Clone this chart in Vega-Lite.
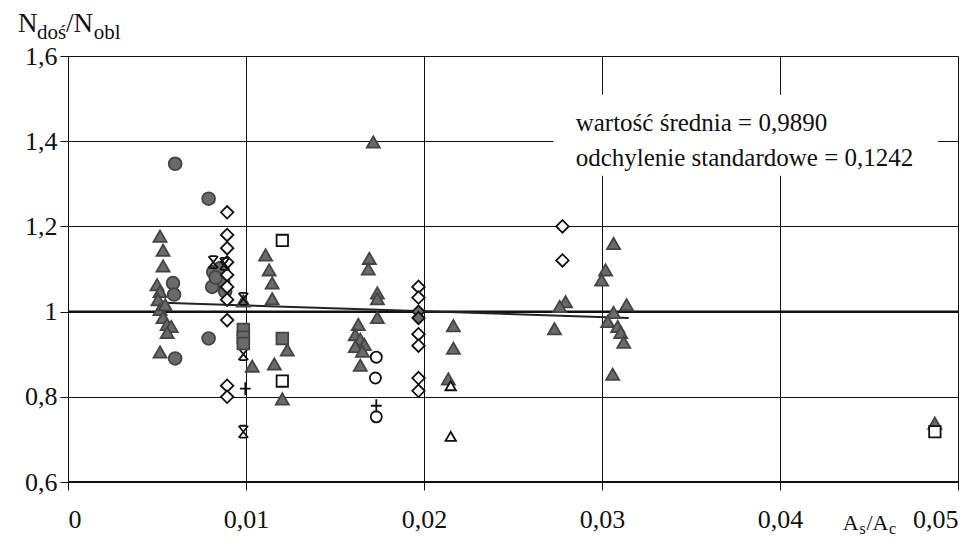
{
  "$schema": "https://vega.github.io/schema/vega-lite/v6.json",
  "width": 890,
  "height": 426,
  "autosize": {"type": "none"},
  "padding": {"left": 68, "top": 56, "right": 11, "bottom": 65},
  "background": "white",
  "config": {
    "view": {"stroke": null},
    "font": "Liberation Serif",
    "axis": {"labelFont": "Liberation Serif", "labelFontSize": 26, "labelColor": "#111", "gridColor": "#111", "gridOpacity": 1, "gridWidth": 1, "tickColor": "#111", "domainColor": "#111", "title": null}
  },
  "datasets": {
    "pts": [
      {"x": 0.00517, "y": 1.177, "t": "tri"},
      {"x": 0.00534, "y": 1.144, "t": "tri"},
      {"x": 0.00534, "y": 1.107, "t": "tri"},
      {"x": 0.00500, "y": 1.063, "t": "tri"},
      {"x": 0.00517, "y": 1.047, "t": "tri"},
      {"x": 0.00506, "y": 1.028, "t": "tri"},
      {"x": 0.00517, "y": 1.005, "t": "tri"},
      {"x": 0.00534, "y": 0.986, "t": "tri"},
      {"x": 0.00557, "y": 0.970, "t": "tri"},
      {"x": 0.00580, "y": 0.965, "t": "tri"},
      {"x": 0.00546, "y": 1.016, "t": "tri"},
      {"x": 0.00557, "y": 0.951, "t": "tri"},
      {"x": 0.00517, "y": 0.905, "t": "tri"},
      {"x": 0.00985, "y": 1.025, "t": "tri"},
      {"x": 0.01035, "y": 0.872, "t": "tri"},
      {"x": 0.0111, "y": 1.133, "t": "tri"},
      {"x": 0.0113, "y": 1.098, "t": "tri"},
      {"x": 0.01147, "y": 1.067, "t": "tri"},
      {"x": 0.01147, "y": 1.03, "t": "tri"},
      {"x": 0.01159, "y": 0.877, "t": "tri"},
      {"x": 0.01204, "y": 0.795, "t": "tri"},
      {"x": 0.01232, "y": 0.91, "t": "tri"},
      {"x": 0.01715, "y": 1.398, "t": "tri"},
      {"x": 0.01693, "y": 1.125, "t": "tri"},
      {"x": 0.01687, "y": 1.10, "t": "tri"},
      {"x": 0.01738, "y": 1.044, "t": "tri"},
      {"x": 0.01738, "y": 1.03, "t": "tri"},
      {"x": 0.01738, "y": 0.986, "t": "tri"},
      {"x": 0.01631, "y": 0.97, "t": "tri"},
      {"x": 0.01614, "y": 0.946, "t": "tri"},
      {"x": 0.01642, "y": 0.935, "t": "tri"},
      {"x": 0.01665, "y": 0.923, "t": "tri"},
      {"x": 0.01614, "y": 0.918, "t": "tri"},
      {"x": 0.01654, "y": 0.907, "t": "tri"},
      {"x": 0.01642, "y": 0.874, "t": "tri"},
      {"x": 0.02165, "y": 0.967, "t": "tri"},
      {"x": 0.02165, "y": 0.914, "t": "tri"},
      {"x": 0.02137, "y": 0.842, "t": "tri"},
      {"x": 0.02795, "y": 1.023, "t": "tri"},
      {"x": 0.02762, "y": 1.012, "t": "tri"},
      {"x": 0.02733, "y": 0.96, "t": "tri"},
      {"x": 0.03065, "y": 1.16, "t": "tri"},
      {"x": 0.0302, "y": 1.098, "t": "tri"},
      {"x": 0.02998, "y": 1.074, "t": "tri"},
      {"x": 0.03138, "y": 1.016, "t": "tri"},
      {"x": 0.03065, "y": 0.998, "t": "tri"},
      {"x": 0.03032, "y": 0.977, "t": "tri"},
      {"x": 0.03088, "y": 0.965, "t": "tri"},
      {"x": 0.03105, "y": 0.951, "t": "tri"},
      {"x": 0.03122, "y": 0.928, "t": "tri"},
      {"x": 0.0306, "y": 0.853, "t": "tri"},
      {"x": 0.0487, "y": 0.738, "t": "tri"},
      {"x": 0.00602, "y": 1.347, "t": "circ"},
      {"x": 0.0059, "y": 1.067, "t": "circ"},
      {"x": 0.00596, "y": 1.04, "t": "circ"},
      {"x": 0.00602, "y": 0.89, "t": "circ"},
      {"x": 0.0079, "y": 1.265, "t": "circ"},
      {"x": 0.0079, "y": 0.937, "t": "circ"},
      {"x": 0.00816, "y": 1.093, "t": "circ"},
      {"x": 0.00855, "y": 1.102, "t": "circ"},
      {"x": 0.00872, "y": 1.07, "t": "circ"},
      {"x": 0.0081, "y": 1.058, "t": "circ"},
      {"x": 0.00883, "y": 1.047, "t": "circ"},
      {"x": 0.0083, "y": 1.08, "t": "circ"},
      {"x": 0.00894, "y": 1.233, "t": "diam"},
      {"x": 0.00894, "y": 1.18, "t": "diam"},
      {"x": 0.00894, "y": 1.149, "t": "diam"},
      {"x": 0.00894, "y": 1.116, "t": "diam"},
      {"x": 0.00894, "y": 1.086, "t": "diam"},
      {"x": 0.00894, "y": 1.058, "t": "diam"},
      {"x": 0.00894, "y": 1.028, "t": "diam"},
      {"x": 0.00894, "y": 0.98, "t": "diam"},
      {"x": 0.00894, "y": 0.826, "t": "diam"},
      {"x": 0.00894, "y": 0.80, "t": "diam"},
      {"x": 0.01969, "y": 1.058, "t": "diam"},
      {"x": 0.01969, "y": 1.033, "t": "diam"},
      {"x": 0.01969, "y": 0.947, "t": "diam"},
      {"x": 0.01969, "y": 0.92, "t": "diam"},
      {"x": 0.01969, "y": 0.844, "t": "diam"},
      {"x": 0.01969, "y": 0.814, "t": "diam"},
      {"x": 0.02778, "y": 1.20, "t": "diam"},
      {"x": 0.02778, "y": 1.12, "t": "diam"},
      {"x": 0.01969, "y": 1.0, "t": "fdiam"},
      {"x": 0.01969, "y": 0.985, "t": "fdiam"},
      {"x": 0.00816, "y": 1.116, "t": "ast"},
      {"x": 0.0088, "y": 1.112, "t": "ast"},
      {"x": 0.00985, "y": 1.03, "t": "ast"},
      {"x": 0.00985, "y": 0.90, "t": "ast"},
      {"x": 0.00985, "y": 0.718, "t": "ast"},
      {"x": 0.00985, "y": 0.958, "t": "sq"},
      {"x": 0.00985, "y": 0.94, "t": "sq"},
      {"x": 0.00985, "y": 0.925, "t": "sq"},
      {"x": 0.01204, "y": 0.937, "t": "sq"},
      {"x": 0.01204, "y": 1.167, "t": "osq"},
      {"x": 0.01204, "y": 0.837, "t": "osq"},
      {"x": 0.0487, "y": 0.718, "t": "osq"},
      {"x": 0.01732, "y": 0.893, "t": "ocirc"},
      {"x": 0.01727, "y": 0.844, "t": "ocirc"},
      {"x": 0.01732, "y": 0.753, "t": "ocirc"},
      {"x": 0.00996, "y": 0.819, "t": "plus"},
      {"x": 0.01732, "y": 0.779, "t": "plus"},
      {"x": 0.0215, "y": 0.826, "t": "otri"},
      {"x": 0.0215, "y": 0.707, "t": "otri"}
    ],
    "trend": [
      {"x": 0.0053, "y": 1.021},
      {"x": 0.0315, "y": 0.985}
    ]
  },
  "layer": [
    {
      "data": {"values": [{}]},
      "mark": {"type": "point", "opacity": 0},
      "encoding": {
        "x": {"datum": 0, "type": "quantitative", "scale": {"domain": [0, 0.05], "nice": false, "zero": false},
          "axis": {"values": [0, 0.01, 0.02, 0.03, 0.04, 0.05], "grid": true, "tickSize": 8, "domainWidth": 1, "labelPadding": 16,
            "labelExpr": "datum.value == 0 ? '0' : replace(format(datum.value, '.2f'), '.', ',')"}},
        "y": {"datum": 1, "type": "quantitative", "scale": {"domain": [0.6, 1.6], "nice": false, "zero": false},
          "axis": {"values": [0.6, 0.8, 1.0, 1.2, 1.4, 1.6], "grid": true, "tickSize": 8, "labelPadding": 3,
            "labelExpr": "replace(format(datum.value, '.1~f'), '.', ',')"}}
      }
    },
    {
      "data": {"values": [{}]},
      "mark": {"type": "rule", "color": "#111", "strokeWidth": 2},
      "encoding": {"y": {"datum": 0.6, "type": "quantitative"}}
    },
    {
      "data": {"values": [{}]},
      "mark": {"type": "rule", "color": "#111", "strokeWidth": 2},
      "encoding": {"y": {"datum": 1.0, "type": "quantitative"}}
    },
    {
      "data": {"values": [{}]},
      "mark": {"type": "rect", "fill": "white"},
      "encoding": {
        "x": {"datum": 0.02728, "type": "quantitative"},
        "x2": {"datum": 0.04888},
        "y": {"datum": 1.509, "type": "quantitative"},
        "y2": {"datum": 1.319}
      }
    },
    {
      "data": {"name": "trend"},
      "mark": {"type": "line", "color": "#222", "strokeWidth": 2},
      "encoding": {
        "x": {"field": "x", "type": "quantitative"},
        "y": {"field": "y", "type": "quantitative"}
      }
    },
    {
      "data": {"name": "pts"},
      "mark": {"type": "point", "filled": false, "strokeWidth": 1.8, "opacity": 1},
      "encoding": {
        "x": {"field": "x", "type": "quantitative"},
        "y": {"field": "y", "type": "quantitative"},
        "shape": {"field": "t", "type": "nominal", "legend": null,
          "scale": {"domain": ["tri", "circ", "diam", "fdiam", "ast", "sq", "osq", "ocirc", "plus", "otri"],
            "range": ["triangle-up", "circle", "diamond", "diamond", "M-0.8,-1L0.8,1M-0.8,1L0.8,-1M-0.6,-1L0.6,-1M-0.6,1L0.6,1", "square", "square", "circle", "M-1,0L1,0M0,-1.2L0,1.2", "triangle-up"]}},
        "fill": {"field": "t", "type": "nominal", "legend": null,
          "scale": {"domain": ["tri", "circ", "diam", "fdiam", "ast", "sq", "osq", "ocirc", "plus", "otri"],
            "range": ["#6a6a6a", "#6a6a6a", "white", "#6a6a6a", "transparent", "#6a6a6a", "white", "white", "transparent", "white"]}},
        "stroke": {"field": "t", "type": "nominal", "legend": null,
          "scale": {"domain": ["tri", "circ", "diam", "fdiam", "ast", "sq", "osq", "ocirc", "plus", "otri"],
            "range": ["#444", "#444", "#111", "#111", "#111", "#444", "#111", "#111", "#111", "#111"]}},
        "size": {"field": "t", "type": "nominal", "legend": null,
          "scale": {"domain": ["tri", "circ", "diam", "fdiam", "ast", "sq", "osq", "ocirc", "plus", "otri"],
            "range": [170, 110, 70, 70, 90, 110, 70, 75, 110, 100]}}
      }
    },
    {
      "data": {"values": [
        {"x": 0.02852, "y": 1.442, "s": "wartość średnia = 0,9890"},
        {"x": 0.02852, "y": 1.36, "s": "odchylenie standardowe = 0,1242"}
      ]},
      "mark": {"type": "text", "align": "left", "baseline": "middle", "fontSize": 25, "font": "Liberation Serif", "color": "#111"},
      "encoding": {
        "x": {"field": "x", "type": "quantitative"},
        "y": {"field": "y", "type": "quantitative"},
        "text": {"field": "s"}
      }
    },
    {
      "data": {"values": [
        {"x": -0.00281, "y": 1.656, "s": "N", "f": 27},
        {"x": -0.00174, "y": 1.640, "s": "doś", "f": 21},
        {"x": -0.00011, "y": 1.656, "s": "/N", "f": 27},
        {"x": 0.00145, "y": 1.640, "s": "obl", "f": 21},
        {"x": 0.04353, "y": 0.488, "s": "A", "f": 22},
        {"x": 0.04446, "y": 0.477, "s": "s", "f": 16},
        {"x": 0.04486, "y": 0.488, "s": "/A", "f": 22},
        {"x": 0.04612, "y": 0.477, "s": "c", "f": 16}
      ]},
      "mark": {"type": "text", "align": "left", "baseline": "alphabetic", "font": "Liberation Serif", "color": "#111", "clip": false},
      "encoding": {
        "x": {"field": "x", "type": "quantitative"},
        "y": {"field": "y", "type": "quantitative"},
        "text": {"field": "s"},
        "size": {"field": "f", "type": "quantitative", "scale": null}
      }
    }
  ]
}
